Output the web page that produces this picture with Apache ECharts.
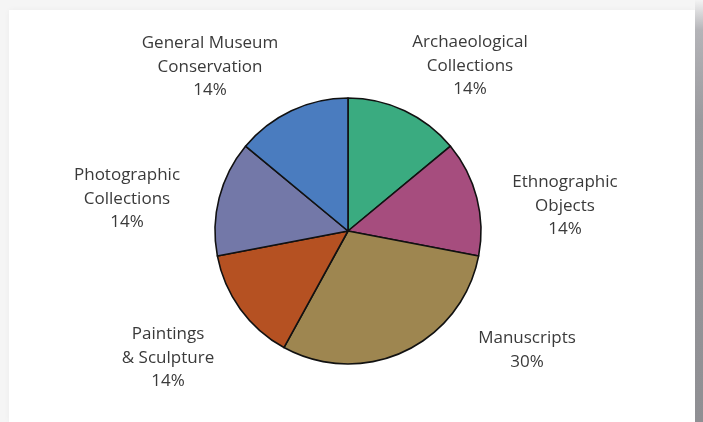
<!DOCTYPE html>
<html>
<head>
<meta charset="utf-8">
<script src="https://cdn.jsdelivr.net/npm/echarts@6/dist/echarts.min.js"></script>
<style>
  html, body { margin: 0; padding: 0; width: 703px; height: 422px; overflow: hidden; background: #f5f5f5; }
  #panel { position: absolute; left: 9px; top: 10px; width: 686px; height: 412px; background: #ffffff;
           box-shadow: 0 0 6px rgba(0,0,0,0.04); }
  #edge { position: absolute; left: 695px; top: 0; width: 8px; height: 422px;
          background: linear-gradient(to bottom, #f3f3f3 0px, #b4b4b8 30px, #9a9a9e 120px, #8f8f93 422px); }
  #chart { position: absolute; left: 0; top: 0; width: 703px; height: 422px; }
</style>
</head>
<body>
<div id="panel"></div>
<div id="edge"></div>
<div id="chart"></div>
<script>
// Collection shares, clockwise from twelve o'clock
const categories = [
  'Archaeological\nCollections',
  'Ethnographic\nObjects',
  'Manuscripts',
  'Paintings\n& Sculpture',
  'Photographic\nCollections',
  'General Museum\nConservation'
];
const shares = [14, 14, 30, 14, 14, 14];

const sliceColors = ['#3aab80', '#a64d7e', '#9e8650', '#b55122', '#7378a8', '#4a7cbf'];
// label block centres [x, y] in pixels
const labelSpots = [[470, 66], [565, 206], [527, 350], [168, 358], [127, 199], [210, 67]];

const chart = echarts.init(document.getElementById('chart'), null, { renderer: 'canvas' });
chart.setOption({
  backgroundColor: 'transparent',
  animation: false,
  series: [{
    type: 'pie',
    center: [348, 231],
    radius: [0, 133],
    startAngle: 90,
    clockwise: true,
    avoidLabelOverlap: false,
    itemStyle: { borderColor: '#111111', borderWidth: 1.6 },
    label: {
      show: true,
      position: 'outside',
      formatter: p => p.name + '\n' + p.value + '%',
      fontFamily: 'Open Sans, Noto Sans, sans-serif',
      fontSize: 17,
      lineHeight: 23.5,
      color: '#3a3a3a',
      align: 'center'
    },
    labelLine: { show: false },
    labelLayout: p => ({
      x: labelSpots[p.dataIndex][0],
      y: labelSpots[p.dataIndex][1],
      align: 'center',
      verticalAlign: 'middle'
    }),
    emphasis: { disabled: true },
    data: categories.map((c, i) => ({ name: c, value: shares[i], itemStyle: { color: sliceColors[i] } }))
  }]
});
</script>
</body>
</html>
